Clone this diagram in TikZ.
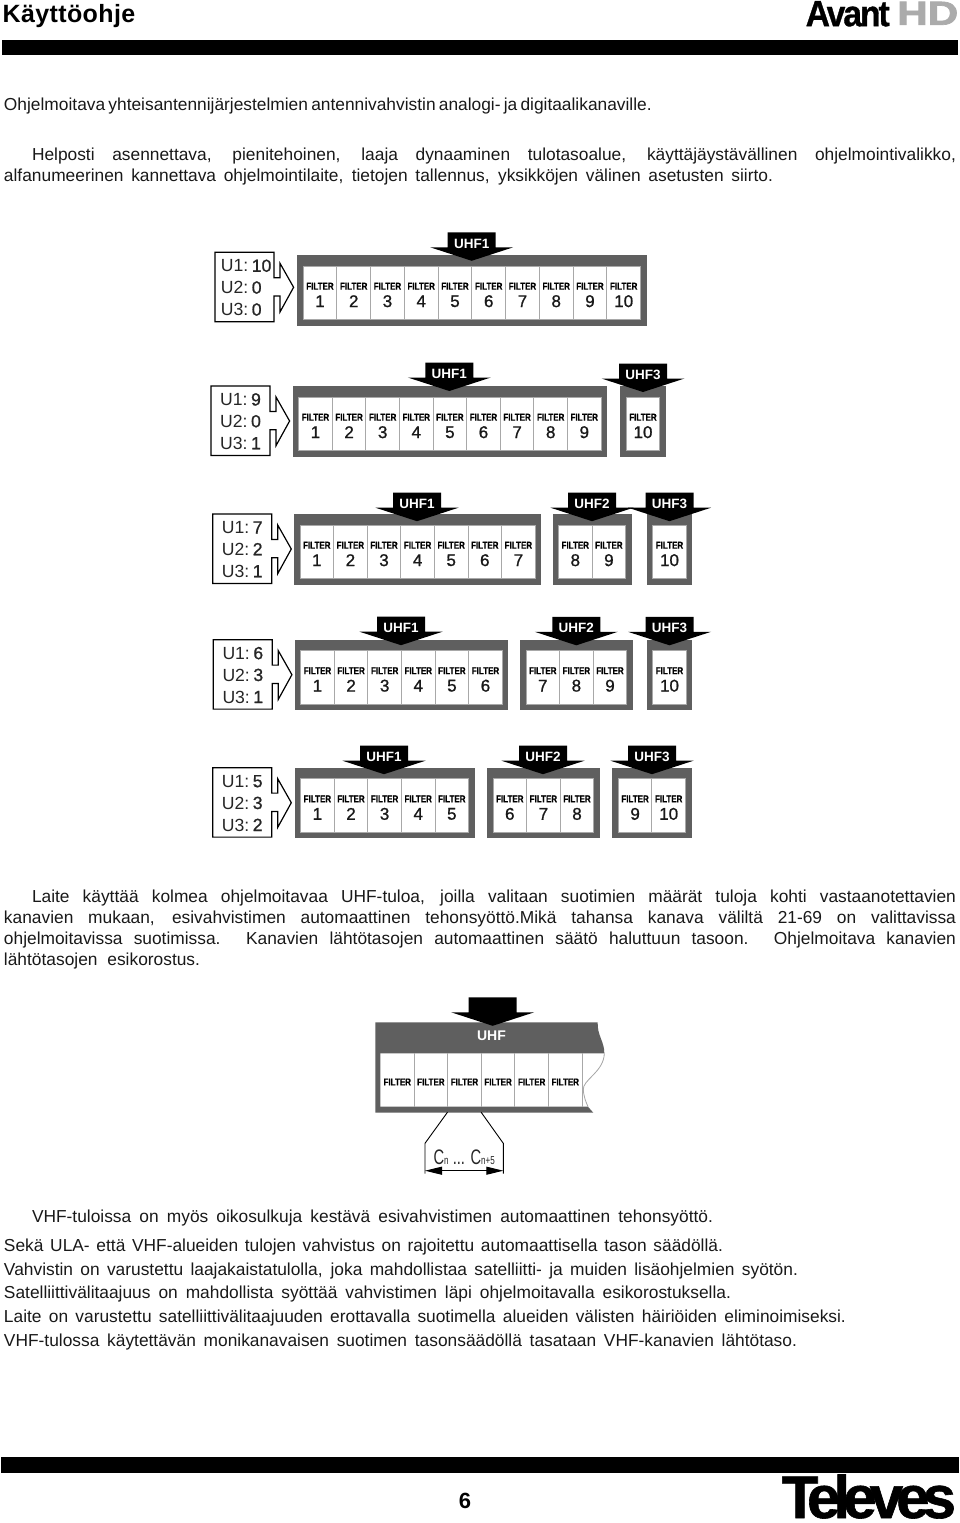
\documentclass[tikz,border=0pt]{standalone}
\usepackage{fontspec}
\usepackage{graphicx}
\usetikzlibrary{arrows.meta}
\setmainfont{Liberation Sans}
\newfontfamily\filtfont[FakeStretch=0.8,FakeBold=0.5]{Liberation Sans Bold}
\newfontfamily\medfont[FakeBold=1]{Liberation Sans}
\newfontfamily\boldfont{Liberation Sans Bold}
\newfontfamily\hdfont[FakeBold=2]{Liberation Sans Bold}
\newfontfamily\titlefont[LetterSpace=1.5]{Liberation Sans Bold}
\newfontfamily\logofont[LetterSpace=-6,FakeBold=1]{Liberation Sans Bold}
\newfontfamily\televesfont[LetterSpace=-11.5,FakeBold=1]{Liberation Sans Bold}
\newfontfamily\narrowfont[FakeStretch=0.7]{Liberation Sans}
\definecolor{framegray}{HTML}{5F5F5F}
\definecolor{divgray}{HTML}{A8A8A8}
\definecolor{hdgray}{HTML}{ABABAB}
\newcommand{\cstep}{33.6}
\tikzset{
  bodyline/.style={anchor=base west,inner sep=0pt,outer sep=0pt,font=\fontsize{17.35}{17.35}\selectfont,text=black!90},
  cellbox/.style={draw=divgray,line width=0.9pt,fill=white,minimum width=\cstep pt,minimum height=53.7pt,inner sep=0pt,outer sep=0pt},
  filterlabel/.style={inner sep=0pt,font=\filtfont\fontsize{10}{10}\selectfont},
  digitlabel/.style={inner sep=0pt,font=\medfont\fontsize{17}{17}\selectfont,text=black!90},
  uhflabel/.style={inner sep=0pt,text=white,font=\boldfont\fontsize{13.5}{13.5}\selectfont},
  ulabel/.style={anchor=base west,inner sep=0pt,font=\fontsize{17.6}{17.6}\selectfont,text=black!85},
  framefill/.style={fill=framegray,draw=none},
  blackbar/.style={fill=black,draw=none}
}
\newcommand{\tline}[5]{\node[bodyline] (#1) at (#2,#3) {\makebox[#4pt][s]{#5}};}
\newcommand{\fblock}[5]{%
  \pgfmathsetmacro{\wl}{#2}%
  \pgfmathsetmacro{\wr}{#2+\cstep*(#5-#4+1)}%
  \fill[framegray] (\wl-6,#3) rectangle (\wr+6,#3+70.7);
  \foreach \n in {#4,...,#5}{%
    \pgfmathsetmacro{\cx}{#2+\cstep*(\n-#4)+\cstep/2}%
    \node[cellbox] (#1c\n) at (\cx,#3+38) {};
    \node[filterlabel] (#1f\n) at (\cx,#3+31.2) {FILTER};
    \node[digitlabel] (#1d\n) at (\cx,#3+46.2) {\n};
  }%
}
\newcommand{\uarrow}[4]{%
  \fill[black] (#2-24,#3) -- (#2+24,#3) -- (#2+24,#3+15) -- (#2+41.5,#3+15) -- (#2,#3+28.5) -- (#2-41.5,#3+15) -- (#2-24,#3+15) -- cycle;
  \node[uhflabel] (#1) at (#2,#3+11.5) {#4};
}
\newcommand{\ubox}[7]{%
  \draw[black,line width=1.2pt,fill=white,line join=miter] (#2,#3) -- (#2+59,#3) -- (#2+59,#3+25.4) -- (#2+65,#3+25.4) -- (#2+65,#3+11) -- (#2+78.6,#3+35) -- (#2+65,#3+59.7) -- (#2+65,#3+43.7) -- (#2+59,#3+43.7) -- (#2+59,#3+69.4) -- (#2,#3+69.4) -- cycle;
  \node[ulabel] (#1a) at (#2+#4,#3+19.5) {U1:\kern3.5pt{\medfont #5}};
  \node[ulabel] (#1b) at (#2+#4,#3+41.3) {U2:\kern3.5pt{\medfont #6}};
  \node[ulabel] (#1c) at (#2+#4,#3+63.3) {U3:\kern3.5pt{\medfont #7}};
}
\begin{document}
\begin{tikzpicture}[x=1pt,y=-1pt]
\useasboundingbox (0,0) rectangle (960,1523);
\fill[white] (0,0) rectangle (960,1523);
% header
\node[anchor=base west,inner sep=0pt,font=\titlefont\fontsize{25}{25}\selectfont] (title) at (2.5,22.7) {Käyttöohje};
\node[anchor=south west,inner sep=0pt] (avant) at (805.5,26.7) {\resizebox{84pt}{25pt}{\logofont Avant}};
\node[anchor=south west,inner sep=0pt,text=hdgray] (hd) at (897,25) {\resizebox{61pt}{23pt}{\hdfont HD}};
\path[blackbar] (1.5,39.5) rectangle (958,55);
% top text
\tline{t1}{4}{110.5}{647}{Ohjelmoitava yhteisantennijärjestelmien antennivahvistin analogi- ja digitaalikanaville.}
\tline{t2}{32}{160.5}{924}{Helposti asennettava, pienitehoinen, laaja dynaaminen tulotasoalue, käyttäjäystävällinen ohjelmointivalikko,}
\tline{t3}{4}{181.5}{769}{alfanumeerinen kannettava ohjelmointilaite, tietojen tallennus, yksikköjen välinen asetusten siirto.}
% row 1
\ubox{ua}{215}{252.3}{5.7}{10}{0}{0}
\renewcommand{\cstep}{33.75}
\fblock{ra}{303.1}{255}{1}{10}
\renewcommand{\cstep}{33.6}
\uarrow{aa}{471.7}{232.3}{UHF1}
% row 2
\ubox{ub}{211}{386}{9}{9}{0}{1}
\fblock{rb}{298.7}{386}{1}{9}
\fblock{rc}{626.2}{386}{10}{10}
\uarrow{ba}{449.3}{362.5}{UHF1}
\uarrow{bb}{643}{363.5}{UHF3}
% row 3
\ubox{uc}{212.7}{514}{9}{7}{2}{1}
\fblock{rd}{300}{514}{1}{7}
\fblock{re}{558.5}{514}{8}{9}
\fblock{rf}{652.7}{514}{10}{10}
\uarrow{ca}{417}{492.7}{UHF1}
\uarrow{cb}{592}{492.7}{UHF2}
\uarrow{cc}{669.5}{492.7}{UHF3}
% row 4
\ubox{ud}{213.3}{639.7}{9}{6}{3}{1}
\fblock{rg}{300.7}{639.5}{1}{6}
\fblock{rh}{526}{639.5}{7}{9}
\fblock{ri}{652.7}{639.5}{10}{10}
\uarrow{da}{401}{616.7}{UHF1}
\uarrow{db}{576.3}{616.8}{UHF2}
\uarrow{dc}{669.5}{616.8}{UHF3}
% row 5
\ubox{ue}{212.7}{767.7}{9}{5}{3}{2}
\fblock{rj}{300.6}{767.7}{1}{5}
\fblock{rk}{493}{767.7}{6}{8}
\fblock{rl}{618.3}{767.7}{9}{10}
\uarrow{ea}{384}{745.7}{UHF1}
\uarrow{eb}{543}{745.7}{UHF2}
\uarrow{ec}{652}{745.7}{UHF3}
% middle text
\tline{m1}{32}{902.5}{924}{Laite käyttää kolmea ohjelmoitavaa UHF-tuloa, joilla valitaan suotimien määrät tuloja kohti vastaanotettavien}
\tline{m2}{4}{923.5}{952}{kanavien mukaan, esivahvistimen automaattinen tehonsyöttö.Mikä tahansa kanava väliltä 21-69 on valittavissa}
\tline{m3}{4}{944.5}{952}{ohjelmoitavissa suotimissa. Kanavien lähtötasojen automaattinen säätö haluttuun tasoon. Ohjelmoitava kanavien}
\tline{m4}{4}{965.5}{196}{lähtötasojen esikorostus.}
% UHF detail diagram
\fill[framegray] (375.3,1022.3) -- (597.7,1022.3) .. controls (597,1035) and (604.5,1042) .. (604.3,1053) .. controls (604,1072) and (582,1080) .. (583.3,1090) .. controls (584,1098) and (586,1102) .. (588,1106.7) -- (593.3,1112.7) -- (375.3,1112.7) -- cycle;
\fill[white] (380.3,1053.3) -- (604.3,1053.3) .. controls (604,1072) and (582,1080) .. (583.3,1090) .. controls (584,1098) and (586,1102) .. (588,1106.7) -- (380.3,1106.7) -- cycle;
\draw[divgray,line width=0.8pt] (604.3,1053.3) .. controls (604,1072) and (582,1080) .. (583.3,1090) .. controls (584,1098) and (586,1102) .. (588,1106.7);
\foreach \n/\x in {1/380.5,2/414.1,3/447.7,4/481.3,5/514.9,6/548.5}{%
  \pgfmathsetmacro{\cx}{\x+16.8}%
  \node[cellbox,draw=none,fill=none] (zc\n) at (\cx,1080) {};
  \node[filterlabel] (zf\n) at (\cx,1082) {FILTER};
}
\foreach \n in {1,...,6}{\draw[divgray,line width=0.9pt] (zc\n.north east) -- (zc\n.south east);}
\uarrow{zu}{492.7}{997.3}{}
\node[uhflabel,font=\boldfont\fontsize{14}{14}\selectfont] (zlabel) at (491.5,1036) {UHF};
% bracket
\coordinate (bl0) at (447.5,1112.2);
\coordinate (br0) at (481.1,1112.2);
\coordinate (bl1) at (425,1143.3);
\coordinate (br1) at (503.3,1143.3);
\coordinate (bl2) at (425,1173.5);
\coordinate (br2) at (503.3,1173.5);
\coordinate (al) at (425,1170.7);
\coordinate (ar) at (503.3,1170.7);
\draw[black,line width=0.9pt] (bl0) -- (bl1) -- (bl2);
\draw[black,line width=0.9pt] (br0) -- (br1) -- (br2);
\draw[{Triangle[length=17pt,width=8pt]}-{Triangle[length=17pt,width=8pt]},black,line width=0.9pt] (al) -- (ar);
\node[inner sep=0pt,anchor=base,font=\narrowfont\fontsize{21}{21}\selectfont,text=black!85] (cn) at (464.2,1164) {C{\fontsize{11.5}{11.5}\selectfont n} ... C{\fontsize{11.5}{11.5}\selectfont n+5}};
% lower text
\tline{l1}{32}{1222.5}{681}{VHF-tuloissa on myös oikosulkuja kestävä esivahvistimen automaattinen tehonsyöttö.}
\tline{l2}{4}{1251.5}{719}{Sekä ULA- että VHF-alueiden tulojen vahvistus on rajoitettu automaattisella tason säädöllä.}
\tline{l3}{4}{1275.5}{794}{Vahvistin on varustettu laajakaistatulolla, joka mahdollistaa satelliitti- ja muiden lisäohjelmien syötön.}
\tline{l4}{4}{1298.5}{727}{Satelliittivälitaajuus on mahdollista syöttää vahvistimen läpi ohjelmoitavalla esikorostuksella.}
\tline{l5}{4}{1322.5}{842}{Laite on varustettu satelliittivälitaajuuden erottavalla suotimella alueiden välisten häiriöiden eliminoimiseksi.}
\tline{l6}{4}{1346.5}{793}{VHF-tulossa käytettävän monikanavaisen suotimen tasonsäädöllä tasataan VHF-kanavien lähtötaso.}
% footer
\path[blackbar] (1,1457) rectangle (959,1472.7);
\node[inner sep=0pt,font=\boldfont\fontsize{22}{22}\selectfont] (page) at (465,1501) {6};
\node[anchor=base west,inner sep=0pt,font=\televesfont\fontsize{60}{60}\selectfont] (televes) at (781.5,1518) {Televes};
\end{tikzpicture}
\end{document}
